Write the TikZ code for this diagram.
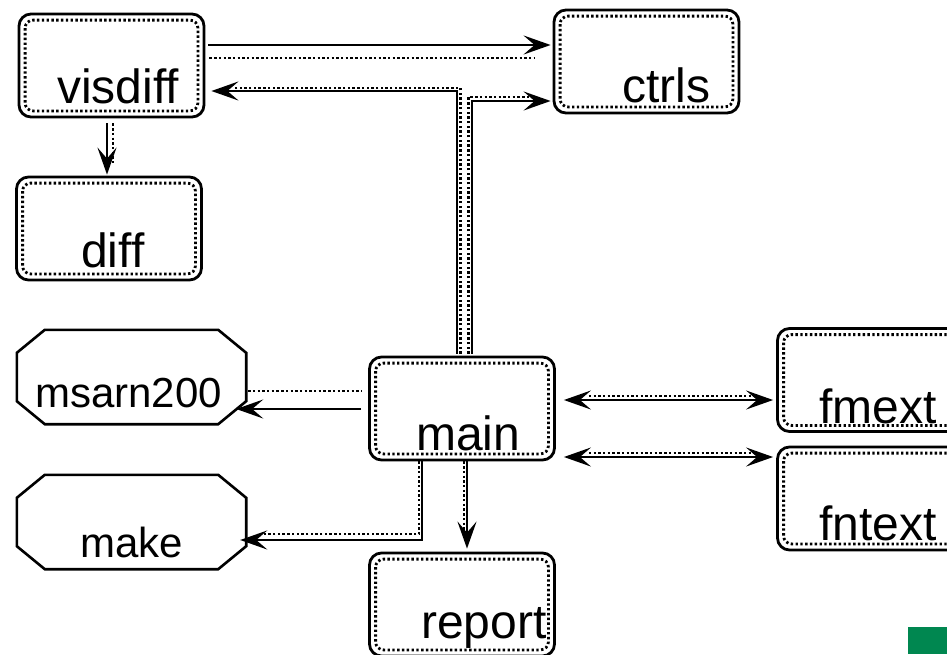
\documentclass[tikz,border=0pt]{standalone}
\usepackage{fontspec}
\setmainfont{Liberation Sans}
\usetikzlibrary{arrows.meta}
\definecolor{sealgreen}{RGB}{0,135,80}
\tikzset{
  modbox/.style={draw, line width=2.8pt, rounded corners=12pt, minimum width=185pt, minimum height=103pt, inner sep=0pt},
  toolbox/.style={rectangle, minimum width=229pt, minimum height=94pt, inner sep=0pt},
  toolline/.style={line width=2.6pt},
  innerdot/.style={line width=2.8pt, dash pattern=on 2.4pt off 2.4pt, rounded corners=8pt},
  modname/.style={inner sep=0pt, anchor=base west, font=\fontsize{48}{54}\selectfont},
  toolname/.style={modname, font=\fontsize{42}{48}\selectfont},
  link/.style={line width=2.6pt, ->},
  linkdot/.style={line width=2.6pt, dash pattern=on 2.4pt off 2.3pt},
}

\begin{document}
\begin{tikzpicture}[x=1pt, y=-1pt, >={Stealth[length=27pt, width=19pt, inset=11pt]}]
    \useasboundingbox (0,0) rectangle (947,654);

    \node[modbox] (visdiff) at (111.5,65.5) {};
    \node[modbox] (ctrls) at (646.5,61.5) {};
    \node[modbox] (diff) at (109,228.5) {};
    \node[modbox] (main) at (462,408.5) {};
    \node[modbox] (report) at (462,604.5) {};
    \node[modbox] (fmext) at (870,380) {};
    \node[modbox] (fntext) at (870,498.5) {};
    \node[toolbox] (msarn200) at (131.5,377) {};
    \node[toolbox] (make) at (131.5,522) {};

    \foreach \b in {visdiff,ctrls,diff,main,report,fmext,fntext}
        \draw[innerdot] ([shift={(7.5,7.5)}]\b.north west) rectangle ([shift={(-7.5,-7.5)}]\b.south east);
    \foreach \t in {msarn200,make}
        \draw[toolline] ([shift={(28,0)}]\t.north west) -- ([shift={(-28,0)}]\t.north east)
            -- ([shift={(0,23)}]\t.north east) -- ([shift={(0,-23)}]\t.south east)
            -- ([shift={(-28,0)}]\t.south east) -- ([shift={(28,0)}]\t.south west)
            -- ([shift={(0,-23)}]\t.south west) -- ([shift={(0,23)}]\t.north west) -- cycle;

    \node[modname] (visdiff-t) at ([shift={(-54.5,37.5)}]visdiff.center) {visdiff};
    \node[modname] (ctrls-t) at ([shift={(-24.5,40.5)}]ctrls.center) {ctrls};
    \node[modname] (diff-t) at ([shift={(-28,39)}]diff.center) {diff};
    \node[modname] (main-t) at ([shift={(-46,41.5)}]main.center) {main};
    \node[modname] (report-t) at ([shift={(-41,33.5)}]report.center) {report};
    \node[modname] (fmext-t) at ([shift={(-51,43)}]fmext.center) {fmext};
    \node[modname] (fntext-t) at ([shift={(-51,41.5)}]fntext.center) {fntext};
    \node[toolname] (msarn200-t) at ([shift={(-96.5,30)}]msarn200.center) {msarn200};
    \node[toolname] (make-t) at ([shift={(-51.5,35)}]make.center) {make};

    \draw[link] ([shift={(3,-20.5)}]visdiff.east) -- ([shift={(-2,-16.5)}]ctrls.west);
    \draw[linkdot] ([shift={(4,-7.5)}]visdiff.east) -- ([shift={(-18,-3.5)}]ctrls.west);

    \draw[link] ([shift={(-5,-2)}]main.north) |- ([shift={(6,25.5)}]visdiff.east);
    \draw[linkdot] ([shift={(-1.5,-2)}]main.north) |- ([shift={(29,22.5)}]visdiff.east);
    \draw[link] ([shift={(10,-2)}]main.north) |- ([shift={(-2,39.5)}]ctrls.west);
    \draw[linkdot] ([shift={(6.5,-2)}]main.north) |- ([shift={(-20,35.5)}]ctrls.west);

    \draw[link] ([shift={(-4.5,5)}]visdiff.south) -- ([shift={(-2,-1)}]diff.north);
    \draw[linkdot] ([shift={(1.5,5)}]visdiff.south) -- ([shift={(4,-10)}]diff.north);

    \draw[link] ([shift={(-7,0.5)}]main.west) -- ([shift={(-10,32)}]msarn200.east);
    \draw[linkdot] ([shift={(2,14)}]msarn200.east) -- ([shift={(-7,-17.5)}]main.west);

    \draw[link] ([shift={(-40,0)}]main.south) |- ([shift={(-6,18)}]make.east);
    \draw[linkdot] ([shift={(-43,0)}]main.south) |- ([shift={(14,12)}]make.east);

    \draw[link] ([shift={(5,0)}]main.south) -- ([shift={(5,-3)}]report.north);
    \draw[linkdot] ([shift={(2,0)}]main.south) -- ([shift={(2,-22)}]report.north);

    \draw[link, <->] ([shift={(8,-8.5)}]main.east) -- ([shift={(-3,20)}]fmext.west);
    \draw[linkdot] ([shift={(33,-12.5)}]main.east) -- ([shift={(-21,16)}]fmext.west);
    \draw[link, <->] ([shift={(8,48.5)}]main.east) -- ([shift={(-3,-41.5)}]fntext.west);
    \draw[linkdot] ([shift={(33,44.5)}]main.east) -- ([shift={(-21,-45.5)}]fntext.west);

    \fill[sealgreen] (908,627) rectangle (947,654);
\end{tikzpicture}
\end{document}
